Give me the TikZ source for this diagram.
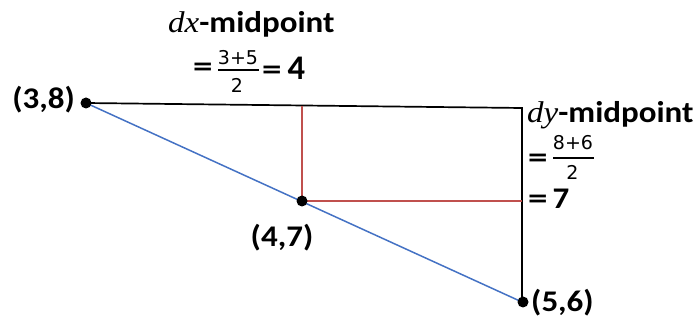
\documentclass[tikz,border=0pt]{standalone}
\usepackage{fontspec}
\usepackage{graphicx}
\setmainfont{Carlito}
\newfontfamily\varfont{Liberation Serif}
\newfontfamily\fracfont{DejaVu Sans}
\usetikzlibrary{calc}
\definecolor{lineblue}{RGB}{68,114,196}
\definecolor{linered}{RGB}{192,80,77}
\newcommand{\wide}[1]{\scalebox{1.1}[1]{#1}}
\newcommand{\weq}{\scalebox{1.3}[1]{=}}
\begin{document}
\begin{tikzpicture}[x=1pt,y=-1pt,
  dot/.style={circle,fill=black,inner sep=0pt,minimum size=11pt},
  lbl/.style={font=\fontsize{30}{32}\selectfont\bfseries,inner sep=0pt},
  frc/.style={font=\fontsize{19}{21}\fracfont,inner sep=0pt},
  bar/.style={line width=2pt},
  edge/.style={line width=1.7pt},
  redl/.style={line width=1.5pt,draw=linered},
  bluel/.style={line width=1.5pt,draw=lineblue}]
\useasboundingbox (0,0) rectangle (696,320);
\coordinate (C) at (522,108);
\coordinate (T) at (302,106);
\coordinate (R) at (522,201);
\draw[edge] (86,103) -- (C) -- (522,302);
\draw[bluel] (86,103) -- (522,302);
\draw[redl] (302,201) -- (T);
\draw[redl] (302,201) -- (R);
\node[dot] (A) at (86,103) {};
\node[dot] (M) at (302,201) {};
\node[dot] (B) at (523,302) {};
\node[lbl,anchor=base east] (lA) at (75,109) {\wide{(3,8)}};
\node[lbl,anchor=base] (lM) at (282,247) {\wide{(4,7)}};
\node[lbl,anchor=base west] (lB) at (531,312) {\wide{(5,6)}};
% dx
\node[lbl,anchor=base west] (dxt) at (168,33) {\wide{{\mdseries\varfont\itshape dx}-midpoint}};
\node[lbl,anchor=base west] (dxeq) at (193,77) {\weq};
\node[frc,anchor=base] (dxn) at (238,65) {3+5};
\coordinate (dxb1) at (218,70);
\coordinate (dxb2) at (259,70);
\draw[bar] (dxb1) -- (dxb2);
\node[frc,anchor=base] (dxd) at (237,93) {2};
\node[lbl,anchor=base west] (dxr) at (262,80) {\weq\hspace{6pt}\scalebox{1.15}{4}};
% dy
\node[lbl,anchor=base west] (dyt) at (527,123) {\wide{{\mdseries\varfont\itshape dy}-midpoint}};
\node[lbl,anchor=base west] (dyeq) at (528,168) {\weq};
\node[frc,anchor=base] (dyn) at (573,150) {8+6};
\coordinate (dyb1) at (553,158);
\coordinate (dyb2) at (594,158);
\draw[bar] (dyb1) -- (dyb2);
\node[frc,anchor=base] (dyd) at (572.5,180) {2};
\node[lbl,anchor=base west] (dyr) at (528,209) {\weq\hspace{5pt}\wide{7}};
\end{tikzpicture}
\end{document}
